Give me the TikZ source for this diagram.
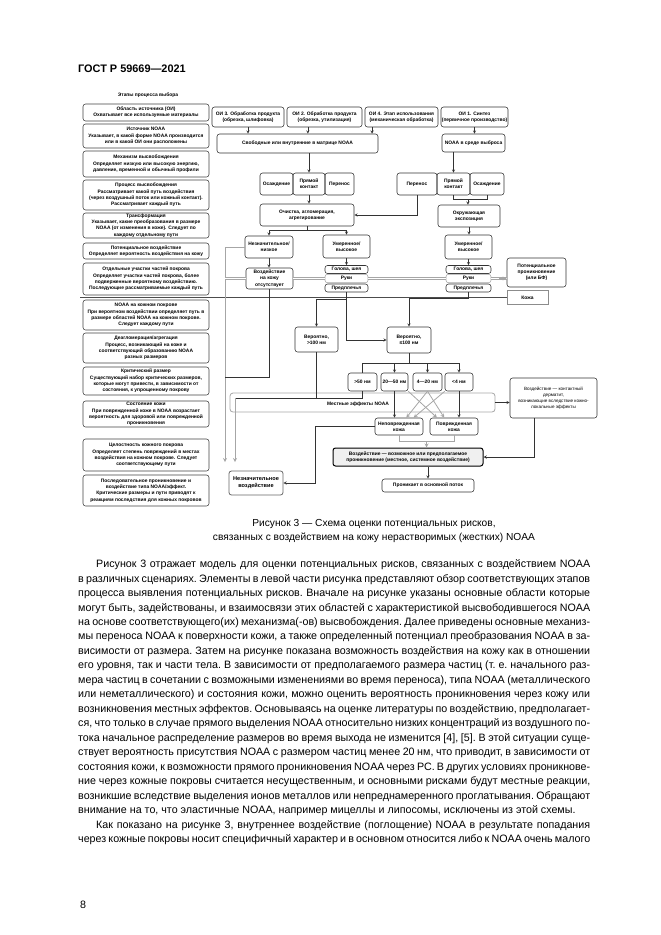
\documentclass[tikz,border=0pt]{standalone}
\usepackage{fontspec}
\setmainfont{Liberation Sans}
\usetikzlibrary{arrows,calc}

\newcommand\dgf{\fontsize{4.9}{6.3}\selectfont\bfseries}
\newcommand\bodyf{\fontsize{10.7}{14.47}\selectfont\frenchspacing}

\tikzset{
  stage/.style={draw=black!75, rounded corners=2.5pt, line width=0.55pt, inner sep=0pt, align=center, font=\dgf, minimum width=126pt},
  blk/.style={draw=black!80, rounded corners=2.5pt, line width=0.55pt, inner sep=0pt, align=center, font=\dgf},
  pale/.style={blk, draw=black!35},
  lnk/.style={draw=black!80, line width=0.5pt},
  arr/.style={lnk, -stealth},
  glnk/.style={draw=black!35, line width=0.8pt},
  garr/.style={glnk, -stealth},
  hlnk/.style={draw=black!35, line width=0.5pt, double=white, double distance=1.4pt},
}

\begin{document}
\begin{tikzpicture}[x=1pt,y=-1pt]
\useasboundingbox (0,0) rectangle (661,935);

% Text Node
\node[anchor=base west, inner sep=0pt, font=\fontsize{10.9}{13}\selectfont\bfseries] (hdr) at (78,72) {ГОСТ Р 59669—2021};

%Stages column
\node[font=\dgf] (sttl) at (148,95) {Этапы процесса выбора};
\node[stage, minimum height=17pt] (st1) at (146,112.5) {Область источника (ОИ)\\Охватывает все используемые материалы};
\node[stage, minimum height=24pt] (st2) at (146,136) {Источник NOAA\\Указывает, в какой форме NOAA производится\\или в какой ОИ они расположены};
\node[stage, minimum height=26pt] (st3) at (146,164) {Механизм высвобождения\\Определяет низкую или высокую энергию,\\давление, временной и обычный профили};
\node[stage, minimum height=30pt] (st4) at (146,195) {Процесс высвобождения\\Рассматривает какой путь воздействия\\(через воздушный поток или кожный контакт).\\Рассматривает каждый путь};
\node[stage, minimum height=25pt] (st5) at (146,225.5) {Трансформация\\Указывает, какие преобразования в размере\\NOAA (от изменения в коже). Следует по\\каждому отдельному пути};
\node[stage, minimum height=16pt] (st6) at (146,251) {Потенциальное воздействие\\Определяет вероятность воздействия на кожу};
\node[stage, minimum height=32pt] (st7) at (146,279) {Отдельные участки частей покрова\\Определяет участки частей покрова, более\\подверженные вероятному воздействию.\\Последующие рассматриваемые каждый путь};
\node[stage, minimum height=30pt] (st8) at (146,315) {NOAA на кожном покрове\\При вероятном воздействии определяет путь в\\размере областей NOAA на кожном покрове.\\Следует каждому пути};
\node[stage, minimum height=30pt] (st9) at (146,348) {Деагломерация/агрегация\\Процесс, возникающий на коже и\\соответствующий образованию NOAA\\разных размеров};
\node[stage, minimum height=28pt] (st10) at (146,381) {Критический размер\\Существующий набор критических размеров,\\которые могут привести, в зависимости от\\состояния, к упрощенному покрову};
\node[stage, minimum height=26pt] (st11) at (146,414) {Состояние кожи\\При поврежденной коже в NOAA возрастает\\вероятность для здоровой или поврежденной\\проникновения};
\node[stage, minimum height=32pt] (st12) at (146,455) {Целостность кожного покрова\\Определяет степень повреждений в местах\\воздействия на кожном покрове. Следует\\соответствующему пути};
\node[stage, minimum height=31pt] (st13) at (146,490.5) {Последовательное проникновение и\\воздействие типа NOAA/эффект.\\Критические размеры и пути приводят к\\реакциям последствия для кожных покровов};

%Sources
\node[blk, minimum width=72pt, minimum height=20pt] (oi3) at (248,117) {ОИ 3. Обработка продукта\\(обрезка, шлифовка)};
\node[blk, minimum width=75pt, minimum height=20pt] (oi2) at (324.5,117) {ОИ 2. Обработка продукта\\(обрезка, утилизация)};
\node[blk, minimum width=73pt, minimum height=20pt] (oi4) at (401.5,117) {ОИ 4. Этап использования\\(механическая обработка)};
\node[blk, minimum width=67pt, minimum height=20pt] (oi1) at (474.5,117) {ОИ 1. Синтез\\(первичное производство)};
\node[blk, minimum width=161pt, minimum height=19pt] (matrix) at (297.5,143.5) {Свободные или внутренние в матрице NOAA};
\node[blk, minimum width=63pt, minimum height=18pt] (release) at (473.5,143) {NOAA в среде выброса};

%Transfer
\node[blk, minimum width=33pt, minimum height=22pt] (osd1) at (276.5,184) {Осаждение};
\node[blk, minimum width=32pt, minimum height=22pt] (pk1) at (309,184) {Прямой\\контакт};
\node[blk, minimum width=29pt, minimum height=22pt] (per1) at (339.5,184) {Перенос};
\node[blk, minimum width=40pt, minimum height=22pt] (per2) at (417,184) {Перенос};
\node[blk, minimum width=33pt, minimum height=22pt] (pk2) at (453.5,184) {Прямой\\контакт};
\node[blk, minimum width=34pt, minimum height=22pt] (osd2) at (487,184) {Осаждение};
\node[blk, minimum width=94pt, minimum height=22pt] (clean) at (307,215) {Очистка, агломерация,\\агрегирование};
\node[blk, minimum width=62pt, minimum height=22pt] (env) at (469,216) {Окружающая\\экспозиция};

%Exposure
\node[blk, minimum width=48pt, minimum height=22pt] (nl) at (269,247) {Незначительное/\\низкое};
\node[blk, minimum width=47pt, minimum height=23pt] (mh1) at (346.5,246.5) {Умеренное/\\высокое};
\node[blk, minimum width=47pt, minimum height=24pt] (mh2) at (468.5,247) {Умеренное/\\высокое};
\node[blk, minimum width=47pt, minimum height=21pt] (noexp) at (269.5,278.5) {Воздействие\\на кожу\\отсутствует};
\node[blk, minimum width=43pt, minimum height=8pt] (head1) at (346.5,269.5) {Голова, шея};
\node[pale, minimum width=43pt, minimum height=8.5pt] (hands1) at (346.5,278.5) {Руки};
\node[blk, minimum width=43pt, minimum height=8pt] (fore1) at (346.5,288) {Предплечья};
\node[blk, minimum width=45pt, minimum height=8pt] (head2) at (468.5,269.5) {Голова, шея};
\node[pale, minimum width=45pt, minimum height=8.5pt] (hands2) at (468.5,278.5) {Руки};
\node[blk, minimum width=45pt, minimum height=8pt] (fore2) at (468.5,288) {Предплечья};
\node[blk, minimum width=59pt, minimum height=29pt] (pot) at (536.5,272.5) {Потенциальное\\проникновение\\(или БФ)};
\node[draw=black!45, line width=0.5pt, inner sep=0pt, font=\dgf, minimum width=41pt, minimum height=14pt] (skin) at (527.5,297.5) {Кожа};

%Sizes
\node[blk, minimum width=43pt, minimum height=25pt] (big) at (316.5,339.5) {Вероятно,\\>100 нм};
\node[blk, minimum width=44pt, minimum height=26pt] (small) at (409,340) {Вероятно,\\≤100 нм};
\node[blk, minimum width=29pt, minimum height=18pt] (s50) at (362.5,382) {>50 нм};
\node[blk, minimum width=27pt, minimum height=18pt] (s2050) at (394.5,382) {20—50 нм};
\node[blk, minimum width=29pt, minimum height=18pt] (s420) at (427.5,382) {4—20 нм};
\node[blk, minimum width=28pt, minimum height=18pt] (s4) at (459,382) {<4 нм};
\node[draw=black!35, rounded corners=3pt, line width=0.8pt, minimum width=265pt, minimum height=19pt] (bar) at (362.5,402.5) {};
\node[font=\dgf, inner sep=0pt] (barlbl) at (358,404) {Местные эффекты NOAA};
\node[blk, minimum width=48pt, minimum height=17pt] (undam) at (399,426.5) {Неповрежденная\\кожа};
\node[blk, minimum width=48pt, minimum height=17pt] (dam) at (454,426.5) {Поврежденная\\кожа};
\node[blk, draw=black, line width=1pt, fill=black!6, minimum width=150pt, minimum height=18pt] (expo) at (408,457) {Воздействие — возможное или предполагаемое\\проникновение (местное, системное воздействие)};
\node[blk, minimum width=92pt, minimum height=13pt] (pen) at (428,485.5) {Проникает в основной поток};
\node[blk, draw=black!60, line width=0.8pt, minimum width=54pt, minimum height=24pt, font=\fontsize{5.6}{7}\selectfont\bfseries] (minimal) at (256,483) {Незначительное\\воздействие};
\node[blk, minimum width=87pt, minimum height=40pt, font=\fontsize{4.6}{6}\selectfont] (derm) at (553.5,398) {Воздействие — контактный\\дерматит,\\возникающие вследствие кожно-\\локальные эффекты};

%Connectors
\coordinate (a2) at ($(oi2.south west)!0.28!(oi2.south east)$);
\coordinate (a4) at ($(oi4.south west)!0.1!(oi4.south east)$);
\draw[arr] (oi3.south) -- (oi3.south |- matrix.north);
\draw[arr] (a2) -- (a2 |- matrix.north);
\draw[arr] (a4) -- (a4 |- matrix.north);
\draw[arr] (oi1.south) -- (oi1.south |- release.north);
\draw[arr] (pk1.north |- matrix.south) -- (pk1.north);
\draw[arr] (pk2.north |- release.south) -- (pk2.north);
\draw[arr] (pk1.south) -- (pk1.south |- clean.north);
\draw[arr] (per2.south) |- (clean.east);
\coordinate (jr) at ($(pk2.south)!0.43!(osd2.south)+(0,4)$);
\draw[lnk] (pk2.south) |- (jr) -| (osd2.south);
\draw[arr] (jr) -- (jr |- env.north);
\coordinate (jc) at ($(clean.south)+(0,4)$);
\draw[lnk] (clean.south) -- (jc);
\draw[arr] (jc) -| (nl.north);
\draw[arr] (jc) -| (mh1.north);
\draw[arr] (env.south) -- (env.south |- mh2.north);
\draw[arr] (nl.south) -- (nl.south |- noexp.north);
\draw[arr] (mh1.south) -- (mh1.south |- head1.north);
\draw[arr] (mh2.south) -- (mh2.south |- head2.north);

%Skin surface
\coordinate (sk0) at (80,297.5);
\draw[lnk, draw=black!70] (sk0) -- (skin.west);

%Grey paths
\coordinate (gtop) at (225,247);
\coordinate (gbot) at (225,462);
\coordinate (gmid) at (225,377);
\draw[garr] (nl.west) -| (gbot);
\draw[hlnk] (noexp.west |- hands1.west) -- (hands1.west -| gtop);
\draw[hlnk] (hands1.west) -- (noexp.east |- hands1.west);
\draw[hlnk] (hands1.east) -- (hands2.west);
\draw[hlnk] (hands2.east) -- (pot.west |- hands2.east);
\draw[garr, shorten <=8pt] (hands2.east) -- (pot.west |- hands2.east);
\draw[lnk] (noexp.south) |- (gmid);

%Size paths
\coordinate (js1) at ($(fore1.south)+(0,7)$);
\coordinate (js2) at ($(fore2.south)+(0,6)$);
\draw[lnk] (fore1.south) -- (js1);
\draw[arr] (js1) -| (big.north);
\draw[arr] (js1) |- (small.west);
\draw[arr] (fore2.south) -- (js2) -| (small.north);
\coordinate (jz) at ($(small.south)+(0,10)$);
\draw[lnk] (small.south) -- (jz);
\draw[lnk] (jz) -| (s50.north);
\foreach \s in {s2050,s420,s4}
  \draw[arr] (jz) -| (\s.north);
\coordinate (gk) at (235,398);
\coordinate (gb) at (235,462);
\draw[lnk] (big.south) |- (gk);
\draw[lnk] (s50.south) |- (gk);
\draw[garr] (gk) -- (gb);

%Skin state
\draw[arr] (s2050.south) -- (s2050.south |- undam.north);
\draw[arr] (s4.south) -- (s4.south |- dam.north);
\draw[garr] (s2050.south east) -- ($(dam.north west)!0.3!(dam.north)$);
\draw[garr] (s4.south west) -- ($(undam.north)!0.6!(undam.north east)$);
\draw[garr] (s420.south) -- ($(undam.north)!0.3!(undam.north east)$);
\draw[garr] (s420.south) -- ($(dam.north west)!0.6!(dam.north)$);
\coordinate (jm) at ($(undam.south)!0.5!(dam.south)+(0,6)$);
\draw[glnk] (undam.south) |- (jm) -| (dam.south);
\draw[garr] (jm) -- (jm |- expo.north);
\draw[arr] (pen.north |- expo.south) -- (pen.north);
\coordinate (jn) at ($(undam.west)+(-59,0)$);
\draw[arr] (undam.west) -- (jn) |- (minimal.east);
\draw[arr] (bar.east) -- (bar.east -| derm.west);
\coordinate (jd) at ($(derm.south)+(-19.5,0)$);
\draw[arr] (jd) |- (expo.east);

% Text Node
\node[align=center, inner sep=0pt, font=\fontsize{10.2}{14.6}\selectfont] (cap) at (374,531) {Рисунок 3 — Схема оценки потенциальных рисков,\\связанных с воздействием на кожу нерастворимых (жестких) NOAA};

% Text Node
\node[anchor=north west, text width=512pt, align=justify, inner sep=0pt, font=\bodyf] (body) at (78,559.5) {%
\noindent\hspace*{18pt}Рисунок 3 отражает модель для оценки потенциальных рисков, связанных с воздействием NOAA\linebreak
в различных сценариях. Элементы в левой части рисунка представляют обзор соответствующих этапов\linebreak
процесса выявления потенциальных рисков. Вначале на рисунке указаны основные области которые\linebreak
могут быть, задействованы, и взаимосвязи этих областей с характеристикой высвободившегося NOAA\linebreak
на основе соответствующего(их) механизма(-ов) высвобождения. Далее приведены основные механиз-\linebreak
мы переноса NOAA к поверхности кожи, а также определенный потенциал преобразования NOAA в за-\linebreak
висимости от размера. Затем на рисунке показана возможность воздействия на кожу как в отношении\linebreak
его уровня, так и части тела. В зависимости от предполагаемого размера частиц (т.~е. начального раз-\linebreak
мера частиц в сочетании с возможными изменениями во время переноса), типа NOAA (металлического\linebreak
или неметаллического) и состояния кожи, можно оценить вероятность проникновения через кожу или\linebreak
возникновения местных эффектов. Основываясь на оценке литературы по воздействию, предполагает-\linebreak
ся, что только в случае прямого выделения NOAA относительно низких концентраций из воздушного по-\linebreak
тока начальное распределение размеров во время выхода не изменится [4], [5]. В этой ситуации суще-\linebreak
ствует вероятность присутствия NOAA с размером частиц менее 20 нм, что приводит, в зависимости от\linebreak
состояния кожи, к возможности прямого проникновения NOAA через РС. В других условиях проникнове-\linebreak
ние через кожные покровы считается несущественным, и основными рисками будут местные реакции,\linebreak
возникшие вследствие выделения ионов металлов или непреднамеренного проглатывания. Обращают\linebreak
внимание на то, что эластичные NOAA, например мицеллы и липосомы, исключены из этой схемы.\par
\parfillskip=0pt
\noindent\hspace*{18pt}Как показано на рисунке 3, внутреннее воздействие (поглощение) NOAA в результате попадания\linebreak
через кожные покровы носит специфичный характер и в основном относится либо к NOAA очень малого};

% Text Node
\node[anchor=base west, inner sep=0pt, font=\bodyf] (pg) at (80,908) {8};

\end{tikzpicture}
\end{document}
